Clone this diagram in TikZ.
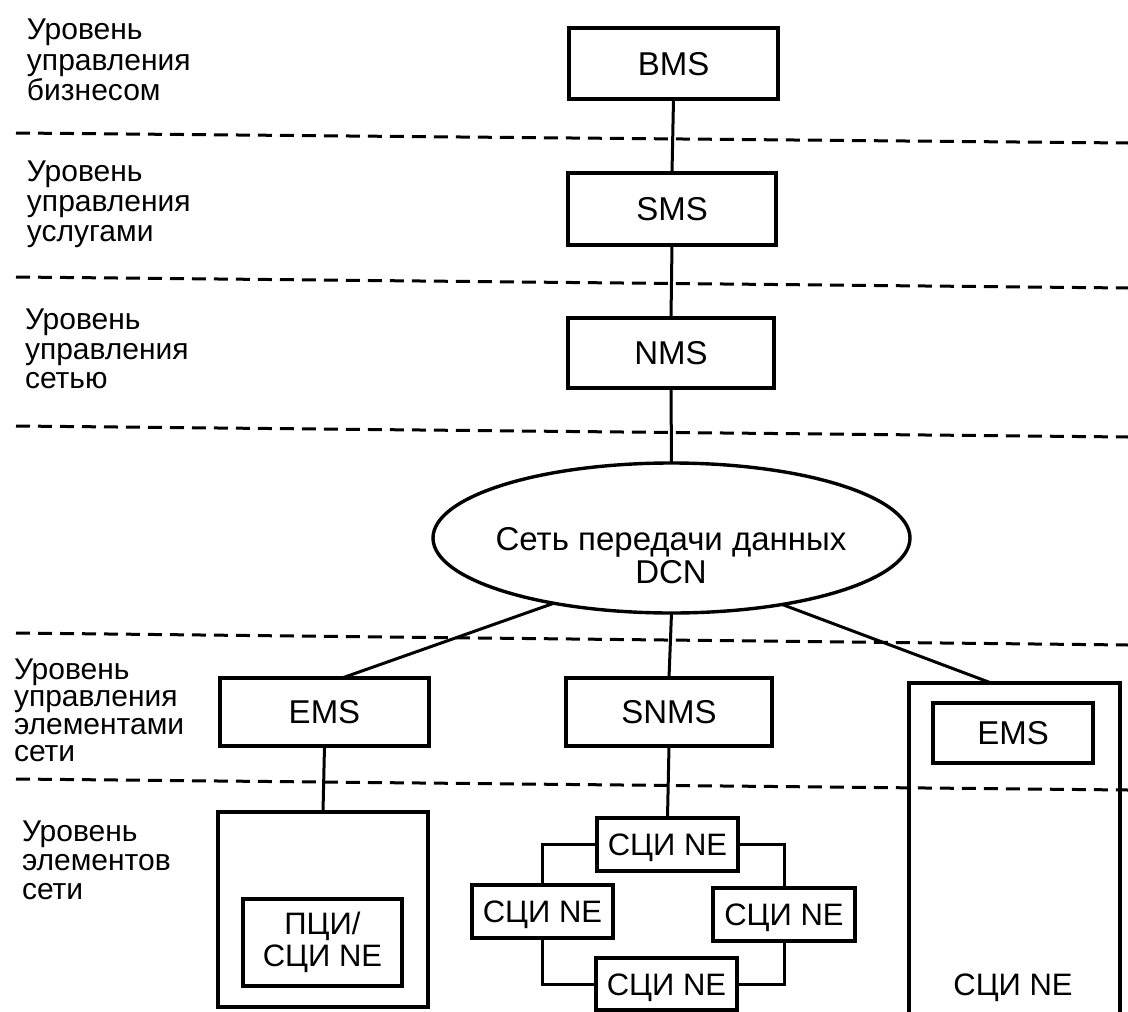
\documentclass[tikz,border=0pt]{standalone}
\usepackage{fontspec}
\setmainfont{Liberation Sans}
\usetikzlibrary{shapes.geometric,calc}
\begin{document}
\begin{tikzpicture}[x=1pt,y=-1pt,
  every node/.style={inner sep=0pt, outer sep=0pt},
  box/.style={draw, line width=3.4pt, rectangle},
  boxline/.style={line width=3.4pt},
  boxtext/.style={font=\fontsize{33}{33}\selectfont, text height=23.6pt, text depth=0pt},
  netext/.style={font=\fontsize{31}{31}\selectfont, text height=22.2pt, text depth=0pt},
  lvl/.style={font=\fontsize{30}{#1}\selectfont, align=left, anchor=north west},
  link/.style={line width=3pt},
  sepline/.style={line width=3pt, dash pattern=on 14pt off 8pt},
]
\fill[white] (0,0) rectangle (1128,1012);
\useasboundingbox (0,0) rectangle (1128,1012);

% layer separators
\draw[sepline] (16,133) -- (1128,143);
\draw[sepline] (16,277) -- (1128,288);
\draw[sepline] (16,426) -- (1128,437);
\draw[sepline] (16,633) -- (1128,645);
\draw[sepline] (16,779) -- (1128,790);

% level labels
\node[lvl=30.5] (l1) at (27,19) {Уровень\\управления\\бизнесом};
\node[lvl=30] (l2) at (27,161) {Уровень\\управления\\услугами};
\node[lvl=29.5] (l3) at (25,309) {Уровень\\управления\\сетью};
\node[lvl=27.3] (l4) at (14,659) {Уровень\\управления\\элементами\\сети};
\node[lvl=29] (l5) at (22,821) {Уровень\\элементов\\сети};

% management systems
\node[box, minimum width=209, minimum height=71, boxtext] (bms) at (673.5,63.5) {BMS};
\node[box, minimum width=208, minimum height=72, boxtext] (sms) at (672,209) {SMS};
\node[box, minimum width=206, minimum height=70, boxtext] (nms) at (671,353) {NMS};

% DCN
\node[draw, ellipse, line width=3.4pt, minimum width=477, minimum height=150] (dcn) at (671.5,538) {};
\node[font=\fontsize{33}{33}\selectfont, align=center] (dcntext) at (671,555.5) {Сеть передачи данных\\DCN};

% element management
\node[box, minimum width=209, minimum height=68, boxtext] (emsL) at (324.5,712) {EMS};
\node[box, minimum width=206, minimum height=68, boxtext] (snms) at (669,712) {SNMS};

% left network element
\node[box, minimum width=210, minimum height=195] (neL) at (323,909.5) {};
\node[box, minimum width=159, minimum height=87, font=\fontsize{31}{32}\selectfont, align=center] (pci) at (322.5,942.5) {ПЦИ/\\СЦИ NE};

% ring
\node[box, minimum width=141, minimum height=53, netext] (neT) at (667.5,844.5) {СЦИ NE};
\node[box, minimum width=141, minimum height=53, netext] (neLft) at (542.5,911.5) {СЦИ NE};
\node[box, minimum width=142, minimum height=53, netext] (neR) at (784,914.5) {СЦИ NE};
\node[box, minimum width=141, minimum height=52, netext] (neB) at (666.5,984) {СЦИ NE};

% right network element with embedded EMS
\node[minimum width=211, minimum height=332] (neRbig) at (1014.5,849) {};
\draw[boxline] (neRbig.south west) -- (neRbig.north west) -- (neRbig.north east) -- (neRbig.south east);
\node[box, minimum width=160, minimum height=60, boxtext] (emsR) at (1013,733) {EMS};
\node[netext, anchor=base] (neRtext) at (1013,995) {СЦИ NE};

% connectors
\draw[link] (bms.south) -- (sms.north);
\draw[link] (sms.south) -- (nms.north);
\draw[link] (nms.south) -- (dcn.north);
\draw[link] (dcn.209) -- ($(emsL.north west)!0.584!(emsL.north east)$);
\draw[link] (dcn.south) -- (snms.north);
\draw[link] (dcn.329) -- ($(neRbig.north west)!0.39!(neRbig.north east)$);
\draw[link] (snms.south) -- (neT.north);
\draw[link] (neT.west) -| (neLft.north);
\draw[link] (neLft.south) |- (neB.west);
\draw[link] (neT.east) -| (neR.north);
\draw[link] (neR.south) |- (neB.east);
\draw[link] (emsL.south) -- (neL.north);
\end{tikzpicture}
\end{document}
